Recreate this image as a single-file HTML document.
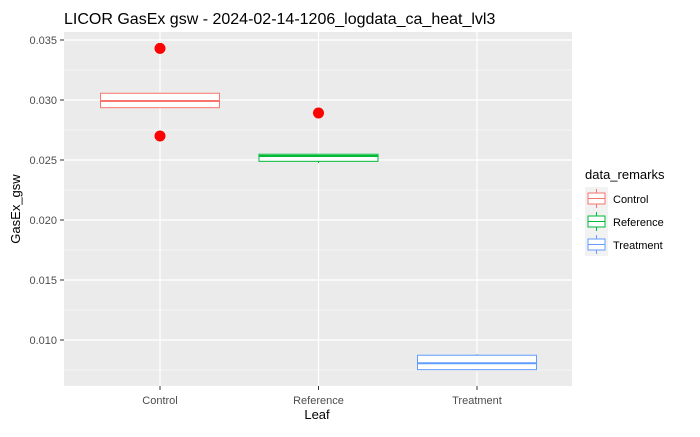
<!DOCTYPE html>
<html><head><meta charset="utf-8"><style>
body{margin:0;background:#fff;font-family:"Liberation Sans",sans-serif}
</style></head><body>
<svg id="chart" width="700" height="432" xmlns="http://www.w3.org/2000/svg" font-family="Liberation Sans, sans-serif">
<text x="64" y="24" font-size="16" fill="#000">LICOR GasEx gsw - 2024-02-14-1206_logdata_ca_heat_lvl3</text>
<rect x="64" y="32" width="508" height="354" fill="#EBEBEB"/>
<g id="grid"></g><g id="marks"></g><g id="axes"></g>
<text x="317" y="419" font-size="13" text-anchor="middle">Leaf</text>
<text transform="translate(20,209) rotate(-90)" font-size="13" text-anchor="middle">GasEx_gsw</text>
<g id="legend"></g>
</svg>
<script>
const categories=["Control","Reference","Treatment"];
const colors=["#F8766D","#00BA38","#619CFF"];
const q1=[0.02936,0.02489,0.00753];
const medians=[0.02992,0.02533,0.00806];
const q3=[0.03056,0.02548,0.00873];
const whiskLow=[0.02936,0.02475,0.00747];
const whiskHigh=[0.0306,0.02548,0.00883];
const outlierCat=[0,0,1];
const outlierVal=[0.0343,0.0270,0.02892];
const yTicks=[0.010,0.015,0.020,0.025,0.030,0.035];
const yTickLabels=["0.010","0.015","0.020","0.025","0.030","0.035"];
const NS="http://www.w3.org/2000/svg";
const y=v=>40+(0.035-v)*12000;
const x=i=>160+i*158.5;
const bw=119;
function mk(t,a,p){const e=document.createElementNS(NS,t);for(const k in a)e.setAttribute(k,a[k]);p.appendChild(e);return e;}
const grid=document.getElementById('grid'),marks=document.getElementById('marks'),axes=document.getElementById('axes'),legend=document.getElementById('legend');
for(let i=0;i<yTicks.length-1;i++){const m=(yTicks[i]+yTicks[i+1])/2;const l=mk('line',{x1:64,x2:572,y1:y(m),y2:y(m),stroke:'#fff','stroke-width':0.6},grid);

}
{const m=yTicks[0]-0.0025;if(y(m)<386){const l=mk('line',{x1:64,x2:572,y1:y(m),y2:y(m),stroke:'#fff','stroke-width':0.6},grid);

}}
yTicks.forEach((v,i)=>{const l=mk('line',{x1:64,x2:572,y1:y(v),y2:y(v),stroke:'#fff','stroke-width':1.2},grid);


mk('line',{x1:60,x2:64,y1:y(v),y2:y(v),stroke:'#333'},axes);
const t=mk('text',{x:57,y:y(v)+4,'font-size':11,fill:'#4D4D4D','text-anchor':'end'},axes);t.textContent=yTickLabels[i];

});
categories.forEach((c,i)=>{const l=mk('line',{x1:x(i),x2:x(i),y1:32,y2:386,stroke:'#fff','stroke-width':1.2},grid);


mk('line',{x1:x(i),x2:x(i),y1:386,y2:390,stroke:'#333'},axes);
const t=mk('text',{x:x(i),y:404,'font-size':11,fill:'#4D4D4D','text-anchor':'middle'},axes);t.textContent=c;


const g=mk('g',{},marks);


mk('line',{x1:x(i),x2:x(i),y1:y(whiskHigh[i]),y2:y(q3[i]),stroke:colors[i]},g);
mk('line',{x1:x(i),x2:x(i),y1:y(q1[i]),y2:y(whiskLow[i]),stroke:colors[i]},g);
mk('rect',{x:x(i)-bw/2,y:y(q3[i]),width:bw,height:y(q1[i])-y(q3[i]),fill:'#fff',stroke:colors[i],'stroke-width':1},g);
mk('line',{x1:x(i)-bw/2,x2:x(i)+bw/2,y1:y(medians[i]),y2:y(medians[i]),stroke:colors[i],'stroke-width':2},g);});
outlierVal.forEach((v,k)=>{const c=mk('circle',{cx:x(outlierCat[k]),cy:y(v),r:5.5,fill:'#FF0000'},marks);

});
const lt=mk('text',{x:585,y:179,'font-size':13},legend);lt.textContent='data_remarks';


categories.forEach((c,i)=>{const yy=187+i*23;const g=mk('g',{},legend);


mk('rect',{x:585,y:yy,width:23,height:23,fill:'#F2F2F2'},g);
mk('line',{x1:596.5,x2:596.5,y1:yy+2,y2:yy+21,stroke:colors[i]},g);
mk('rect',{x:588,y:yy+6,width:17,height:11,fill:'#fff',stroke:colors[i]},g);
mk('line',{x1:588,x2:605,y1:yy+11.5,y2:yy+11.5,stroke:colors[i]},g);
const t=mk('text',{x:613,y:yy+16,'font-size':11},g);t.textContent=c;});
</script>
</body></html>
